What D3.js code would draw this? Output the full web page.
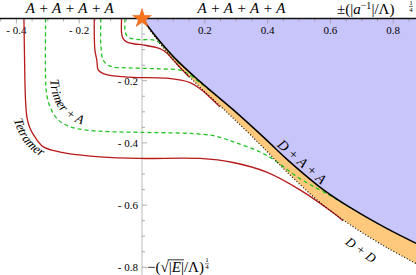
<!DOCTYPE html>
<html>
<head>
<meta charset="utf-8">
<script src="https://cdn.jsdelivr.net/npm/d3@7"></script>
<style>
body { margin: 0; background: #fff; }
svg { display: block; }
</style>
</head>
<body>
<script>
var width = 416, height = 275;

// x = ±(|1/a|/Λ)^(1/4), y = -(sqrt|E|/Λ)^(1/4)
var thresholdDAA = [[0,0],[0.05,-0.065],[0.11,-0.133],[0.185,-0.203],[0.291,-0.294],[0.397,-0.391],
  [0.461,-0.452],[0.577,-0.55],[0.673,-0.614],[0.779,-0.675],[0.873,-0.723]];
var thresholdDD = [[0,0],[0.05,-0.071],[0.11,-0.145],[0.185,-0.221],[0.291,-0.321],[0.397,-0.426],
  [0.461,-0.493],[0.577,-0.6],[0.673,-0.67],[0.779,-0.736],[0.873,-0.788]];

var tetramer1 = [[-0.376,0],[-0.374,-0.133],[-0.371,-0.262],[-0.366,-0.32],[-0.357,-0.352],[-0.341,-0.381],
  [-0.315,-0.412],[-0.277,-0.426],[-0.239,-0.434],[-0.134,-0.445],[-0.006,-0.45],[0.185,-0.45],
  [0.29,-0.463],[0.397,-0.494],[0.503,-0.551],[0.608,-0.624],[0.64,-0.65]];
var tetramer2 = [[-0.152,0],[-0.15,-0.101],[-0.144,-0.133],[-0.139,-0.166],[-0.121,-0.178],[-0.102,-0.183],
  [-0.029,-0.189],[0.079,-0.192],[0.153,-0.206],[0.185,-0.226],[0.217,-0.254],[0.248,-0.284]];
var tetramer3 = [[-0.065,0],[-0.065,-0.047],[-0.061,-0.063],[-0.049,-0.075],[-0.022,-0.082],[0.003,-0.085],
  [0.057,-0.097],[0.08,-0.112],[0.1,-0.134],[0.125,-0.162],[0.15,-0.188]];

var trimerA1 = [[-0.307,0],[-0.307,-0.198],[-0.304,-0.24],[-0.293,-0.284],[-0.267,-0.326],[-0.229,-0.348],
  [-0.176,-0.359],[-0.102,-0.364],[-0.006,-0.366],[0.217,-0.375],[0.29,-0.396],[0.397,-0.44],
  [0.503,-0.515],[0.6,-0.57],[0.672,-0.614]];
var trimerA2 = [[-0.131,0],[-0.131,-0.085],[-0.124,-0.133],[-0.108,-0.15],[-0.092,-0.156],[-0.038,-0.159],
  [0.057,-0.162],[0.121,-0.166],[0.15,-0.18],[0.185,-0.207],[0.225,-0.238]];
var trimerA3 = [[-0.054,0],[-0.054,-0.037],[-0.048,-0.056],[-0.038,-0.063],[-0.006,-0.068],[0.035,-0.069],
  [0.055,-0.078],[0.075,-0.096],[0.1,-0.125],[0.12,-0.146]];

var xTicks = [-0.4, -0.2, 0.2, 0.4, 0.6, 0.8];
var yTicks = [-0.2, -0.4, -0.6, -0.8];

var x = d3.scaleLinear().domain([-0.4, 0.8]).range([16.4, 393.2]);
var y = d3.scaleLinear().domain([0, -0.8]).range([18.5, 267.3]);
var xMax = x.invert(width);

var svg = d3.select('body').append('svg')
  .attr('width', width)
  .attr('height', height)
  .style('font-family', '"Liberation Serif", "DejaVu Serif", serif');

var line = d3.line()
  .x(function(d) { return x(d[0]); })
  .y(function(d) { return y(d[1]); })
  .curve(d3.curveCatmullRom.alpha(0.5));

// blue region above the D+A+A threshold
svg.append('path')
  .attr('d', line(thresholdDAA) + 'L' + x(xMax) + ',' + y(0) + 'L' + x(0) + ',' + y(0) + 'Z')
  .style('fill', '#c8c5fb');

// orange band between D+A+A and D+D
var lower = thresholdDD.slice().reverse();
svg.append('path')
  .attr('d', line(thresholdDAA) + 'L' + line(lower).slice(1) + 'Z')
  .style('fill', '#fec97d');

// axes
var minorX = d3.range(-0.45, 0.9, 0.05).filter(function(v) { return Math.abs(v) > 1e-6; });
var minorY = d3.range(-0.05, -0.85, -0.05);
function isMajor(list, v) { return list.some(function(t) { return Math.abs(t - v) < 1e-6; }); }

svg.append('g').selectAll('line').data(minorX).enter().append('line')
  .attr('x1', function(d) { return x(d); }).attr('x2', function(d) { return x(d); })
  .attr('y1', y(0)).attr('y2', function(d) { return y(0) + (isMajor(xTicks, d) ? 5 : 3); })
  .style('stroke', '#999').style('stroke-width', 0.8);

svg.append('line')
  .attr('x1', x(0)).attr('x2', x(0)).attr('y1', y(0)).attr('y2', height)
  .style('stroke', '#bbb').style('stroke-width', 1);

svg.append('g').selectAll('line').data(minorY).enter().append('line')
  .attr('x1', x(0)).attr('x2', function(d) { return x(0) + (isMajor(yTicks, d) ? 5 : 3); })
  .attr('y1', function(d) { return y(d); }).attr('y2', function(d) { return y(d); })
  .style('stroke', '#999').style('stroke-width', 0.8);

function fmt(v) { return v < 0 ? '- ' + d3.format('.1f')(-v) : d3.format('.1f')(v); }

svg.append('g').selectAll('text').data(xTicks).enter().append('text')
  .attr('x', function(d) { return x(d); })
  .attr('y', y(0) + 15)
  .attr('text-anchor', 'middle')
  .style('font-size', '11px')
  .text(fmt);

svg.append('g').selectAll('text').data(yTicks).enter().append('text')
  .attr('x', x(0) - 4)
  .attr('y', function(d) { return y(d) + 4; })
  .attr('text-anchor', 'end')
  .style('font-size', '11px')
  .text(fmt);

// curves
function drawCurve(data, color, dash) {
  svg.append('path')
    .attr('d', line(data))
    .style('fill', 'none')
    .style('stroke', color)
    .style('stroke-width', 1.3)
    .style('stroke-dasharray', dash || null);
}
[trimerA1, trimerA2, trimerA3].forEach(function(d) { drawCurve(d, '#22c322', '4,3'); });
[tetramer1, tetramer2, tetramer3].forEach(function(d) { drawCurve(d, '#b81a1a'); });

// D+D threshold (dotted)
svg.append('path')
  .attr('d', line(thresholdDD))
  .style('fill', 'none').style('stroke', '#111')
  .style('stroke-width', 1.2).style('stroke-dasharray', '1,2');

// A+A+A+A threshold along E = 0 and D+A+A threshold
svg.append('line')
  .attr('x1', 0).attr('x2', width).attr('y1', y(0)).attr('y2', y(0))
  .style('stroke', '#111').style('stroke-width', 1.5);
svg.append('path')
  .attr('d', line(thresholdDAA))
  .style('fill', 'none').style('stroke', '#000').style('stroke-width', 1.5);

// star at the unitary point
svg.append('path')
  .attr('d', d3.symbol().type(d3.symbolStar).size(110)())
  .attr('transform', 'translate(' + x(0) + ',' + y(0) + ')')
  .style('fill', '#f7731c').style('stroke', '#e85a10').style('stroke-width', 0.5);

// labels
svg.append('text').attr('x', x(-0.23)).attr('y', 13).attr('text-anchor', 'middle')
  .style('font-size', '15px').style('font-style', 'italic').text('A + A + A + A');
svg.append('text').attr('x', x(0.317)).attr('y', 13).attr('text-anchor', 'middle')
  .style('font-size', '15px').style('font-style', 'italic').text('A + A + A + A');

// axis labels with a stacked 1/4 exponent
function quarter(px, py) {
  var g = svg.append('g').style('font-size', '7px').attr('text-anchor', 'middle');
  g.append('text').attr('x', px).attr('y', py - 7).text('1');
  g.append('line').attr('x1', px - 2).attr('x2', px + 2).attr('y1', py - 5.5).attr('y2', py - 5.5)
    .style('stroke', '#000').style('stroke-width', 0.5);
  g.append('text').attr('x', px).attr('y', py).text('4');
}

var xl = svg.append('text').attr('x', 337).attr('y', 14).style('font-size', '15px');
xl.append('tspan').text('±(|');
xl.append('tspan').style('font-style', 'italic').text('a');
xl.append('tspan').attr('dy', -5).style('font-size', '10px').text('−1');
xl.append('tspan').attr('dy', 5).text('|/Λ)');
quarter(411, 12);

var yl = svg.append('text').attr('x', x(0) + 5).attr('y', y(-0.8) + 5).style('font-size', '15px');
yl.append('tspan').text('−(');
yl.append('tspan').text('√');
var sqrtStart = yl.node().getComputedTextLength();
yl.append('tspan').text('|');
yl.append('tspan').style('font-style', 'italic').text('E');
yl.append('tspan').text('|');
var sqrtEnd = yl.node().getComputedTextLength();
yl.append('tspan').text('/Λ)');
var ylEnd = yl.node().getComputedTextLength();
svg.append('line')
  .attr('x1', x(0) + 5 + sqrtStart - 1).attr('x2', x(0) + 5 + sqrtEnd)
  .attr('y1', y(-0.8) - 7.5).attr('y2', y(-0.8) - 7.5)
  .style('stroke', '#000').style('stroke-width', 0.8);
quarter(x(0) + 5 + ylEnd + 3, y(-0.8) + 2);

// labels along curves
var defs = svg.append('defs');
defs.append('path').attr('id', 'trimerPath')
  .attr('d', line([[-0.293,-0.198],[-0.283,-0.252],[-0.261,-0.294],[-0.223,-0.326],[-0.172,-0.346],[-0.121,-0.352]]));
defs.append('path').attr('id', 'tetramerPath')
  .attr('d', line([[-0.408,-0.326],[-0.393,-0.368],[-0.36,-0.415],[-0.313,-0.449],[-0.262,-0.467]]));

svg.append('text').style('font-size', '13px').style('font-style', 'italic')
  .append('textPath').attr('href', '#trimerPath').text('Trimer + A');
svg.append('text').style('font-size', '13px').style('font-style', 'italic')
  .append('textPath').attr('href', '#tetramerPath').text('Tetramer');

svg.append('text')
  .attr('transform', 'translate(' + (x(0.425) + 1) + ',' + (y(-0.419) - 3) + ') rotate(41)')
  .style('font-size', '14px').style('font-style', 'italic').text('D + A + A');
svg.append('text')
  .attr('transform', 'translate(' + x(0.645) + ',' + (y(-0.72) + 1) + ') rotate(36)')
  .style('font-size', '13px').style('font-style', 'italic').text('D + D');
</script>
</body>
</html>
